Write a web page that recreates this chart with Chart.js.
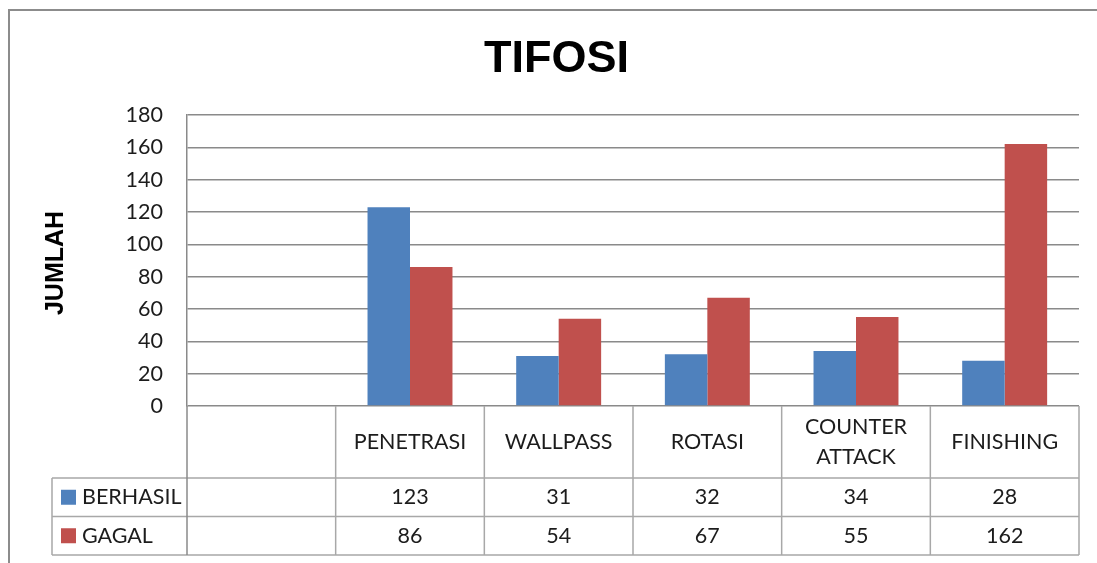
<!DOCTYPE html>
<html>
<head>
<meta charset="utf-8">
<script src="https://cdn.jsdelivr.net/npm/chart.js@4.4.0/dist/chart.umd.min.js"></script>
<style>
  html, body { margin: 0; padding: 0; background: #ffffff; }
  #wrap { width: 1097px; height: 563px; position: relative; }
</style>
</head>
<body>
<div id="wrap"><canvas id="c" width="1097" height="563"></canvas></div>
<script>
// ---- data ----
const chartTitle = 'TIFOSI';
const yAxisTitle = 'JUMLAH';
const categories = ['', 'PENETRASI', 'WALLPASS', 'ROTASI', 'COUNTER ATTACK', 'FINISHING'];
const seriesNames = ['BERHASIL', 'GAGAL'];
const berhasil = [null, 123, 31, 32, 34, 28];
const gagal = [null, 86, 54, 67, 55, 162];
const yTicks = [0, 20, 40, 60, 80, 100, 120, 140, 160, 180];

// ---- styles ----
const BLUE = '#4F81BD';
const RED = '#C0504D';
const GRID = '#8a8a8a';
const TABLE_LINE = '#a8a8a8';
const TEXT = '#1c1c1c';
const BODY_FONT = '"Lato", "Open Sans", sans-serif';
const FONT_SIZE = 21.5;

const tablePlugin = {
  id: 'excelTable',
  afterDraw(chart) {
    const ctx = chart.ctx;
    const xs = chart.scales.x;
    const ys = chart.scales.y;
    const area = chart.chartArea;
    const n = categories.length;
    const colW = (area.right - area.left) / n;
    const top = ys.getPixelForValue(0);
    const headerBottom = top + 72;
    const rowH = 38.5;
    const rowsY = [headerBottom, headerBottom + rowH, headerBottom + 2 * rowH];
    const tableLeft = 52;

    ctx.save();
    // outer chart border
    ctx.strokeStyle = '#8c8c8c';
    ctx.lineWidth = 2;
    ctx.beginPath();
    ctx.moveTo(9, 600);
    ctx.lineTo(9, 10);
    ctx.lineTo(1200, 10);
    ctx.stroke();

    // table lines
    ctx.strokeStyle = TABLE_LINE;
    ctx.lineWidth = 1.5;
    ctx.beginPath();
    rowsY.forEach(y => {
      ctx.moveTo(tableLeft, y);
      ctx.lineTo(area.right, y);
    });
    for (let i = 1; i <= n; i++) {
      const x = xs.getPixelForValue(0) - colW / 2 + i * colW;
      ctx.moveTo(x, top);
      ctx.lineTo(x, rowsY[2]);
    }
    ctx.moveTo(tableLeft, rowsY[0]);
    ctx.lineTo(tableLeft, rowsY[2]);
    ctx.stroke();

    // extend y axis line down through the table
    ctx.strokeStyle = GRID;
    ctx.beginPath();
    ctx.moveTo(area.left, top);
    ctx.lineTo(area.left, rowsY[2]);
    ctx.stroke();

    // category header labels
    ctx.fillStyle = TEXT;
    ctx.font = FONT_SIZE + 'px ' + BODY_FONT;
    ctx.textAlign = 'center';
    ctx.textBaseline = 'middle';
    categories.forEach((c, i) => {
      if (!c) return;
      const cx = xs.getPixelForValue(i);
      const cy = (top + headerBottom) / 2;
      let lines = [c];
      if (ctx.measureText(c).width > colW - 12) lines = c.split(' ');
      const lh = 29.5;
      lines.forEach((ln, k) => {
        ctx.fillText(ln, cx, cy + (k - (lines.length - 1) / 2) * lh);
      });
    });

    // values rows with legend keys
    const series = [berhasil, gagal];
    const colors = [BLUE, RED];
    series.forEach((vals, r) => {
      const cy = (rowsY[r] + rowsY[r + 1]) / 2;
      vals.forEach((v, i) => {
        if (v === null) return;
        ctx.fillText(String(v), xs.getPixelForValue(i), cy);
      });
      ctx.fillStyle = colors[r];
      ctx.fillRect(61, cy - 7.5, 15, 15);
      ctx.fillStyle = TEXT;
      ctx.textAlign = 'left';
      ctx.fillText(seriesNames[r], 82, cy);
      ctx.textAlign = 'center';
    });

    // chart title
    ctx.fillStyle = '#000000';
    ctx.font = 'bold 45px "Liberation Sans", Arial, sans-serif';
    ctx.textBaseline = 'alphabetic';
    ctx.fillText(chartTitle, 556.5, 72);

    // y axis title
    ctx.save();
    ctx.translate(56, 263);
    ctx.rotate(-Math.PI / 2);
    ctx.font = 'bold 25px "Liberation Sans", Arial, sans-serif';
    ctx.textBaseline = 'middle';
    ctx.fillText(yAxisTitle, 0, 0);
    ctx.restore();

    ctx.restore();
  }
};

new Chart(document.getElementById('c'), {
  type: 'bar',
  data: {
    labels: categories,
    datasets: [
      { label: seriesNames[0], data: berhasil, backgroundColor: BLUE },
      { label: seriesNames[1], data: gagal, backgroundColor: RED }
    ]
  },
  options: {
    responsive: false,
    animation: false,
    devicePixelRatio: 1,
    layout: { padding: { left: 0, right: 18, top: 115, bottom: 157 } },
    plugins: { legend: { display: false }, tooltip: { enabled: false }, title: { display: false } },
    datasets: { bar: { categoryPercentage: 2 / 3.5, barPercentage: 1 } },
    scales: {
      x: { display: false, grid: { display: false } },
      y: {
        min: yTicks[0],
        max: yTicks[yTicks.length - 1],
        afterFit(scale) { scale.width = 187; },
        afterBuildTicks(scale) { scale.ticks = yTicks.map(v => ({ value: v })); },
        border: { display: true, color: GRID, width: 1.5 },
        grid: { color: GRID, lineWidth: 1.5, drawTicks: false },
        ticks: {
          padding: 24,
          color: TEXT,
          font: { family: BODY_FONT, size: FONT_SIZE }
        }
      }
    }
  },
  plugins: [tablePlugin]
});
</script>
</body>
</html>
